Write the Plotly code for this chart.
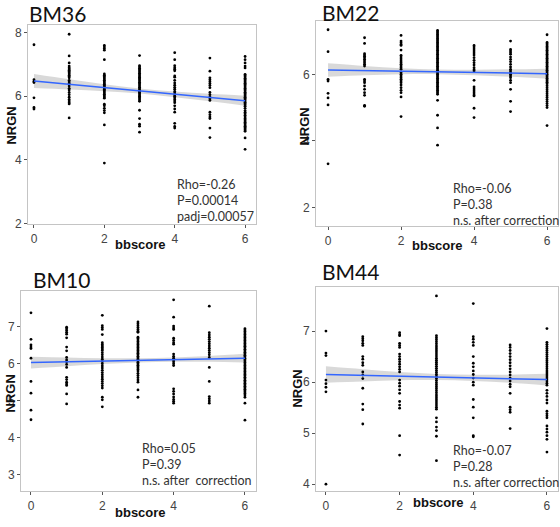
import plotly.graph_objects as go

# ---------------- data ----------------
scores = [0, 1, 2, 3, 4, 5, 6]
panel_names = ["BM36", "BM22", "BM10", "BM44"]

bm36_values = [
    [7.62, 6.52, 6.47, 6.43, 5.95, 5.65, 5.6],
    [7.95, 7.27, 7.05, 6.95, 6.9, 6.86, 6.82, 6.78, 6.74, 6.7, 6.66, 6.62, 6.58, 6.5, 6.45, 6.4, 6.32, 6.25,
     6.2, 6.12, 6.05, 5.97, 5.9, 5.85, 5.8, 5.76, 5.32],
    [7.6, 7.55, 7.5, 7.45, 7.15, 6.7, 6.66, 6.62, 6.58, 6.54, 6.5, 6.46, 6.42, 6.38, 6.34, 6.3, 6.26, 6.22,
     6.18, 6.14, 6.1, 6.06, 6.02, 5.98, 5.94, 5.75, 5.7, 5.62, 5.55, 5.48, 5.1, 3.9],
    [7.28, 6.96, 6.92, 6.88, 6.84, 6.8, 6.76, 6.72, 6.68, 6.64, 6.6, 6.56, 6.52, 6.48, 6.44, 6.4, 6.36, 6.32,
     6.28, 6.24, 6.2, 6.16, 6.12, 6.08, 6.04, 6.0, 5.96, 5.92, 5.88, 5.84, 5.56, 5.3, 5.12, 5.06, 4.87],
    [7.37, 7.15, 6.96, 6.9, 6.85, 6.8, 6.64, 6.6, 6.5, 6.42, 6.35, 6.28, 6.22, 6.15, 6.1, 6.05, 6.0, 5.95,
     5.9, 5.85, 5.8, 5.7, 5.6, 5.5, 5.15, 5.05, 5.0],
    [7.2, 6.79, 6.58, 6.52, 6.46, 6.4, 6.34, 6.27, 6.12, 6.05, 5.98, 5.92, 5.87, 5.5, 5.42, 5.35, 5.3, 5.0, 4.7],
    [7.25, 7.15, 7.05, 6.95, 6.89, 6.69, 6.65, 6.61, 6.57, 6.53, 6.49, 6.45, 6.41, 6.37, 6.33, 6.29, 6.25,
     6.21, 6.17, 6.13, 6.09, 6.05, 6.01, 5.97, 5.93, 5.89, 5.85, 5.81, 5.77, 5.73, 5.69, 5.62, 5.55, 5.5,
     5.45, 5.4, 5.35, 5.3, 5.26, 5.22, 5.18, 5.14, 5.1, 5.06, 5.02, 4.98, 4.94, 4.9, 4.69, 4.33],
]
bm22_values = [
    [7.34, 6.68, 5.85, 5.8, 5.43, 5.29, 5.08, 3.31],
    [7.1, 6.93, 6.62, 6.58, 6.54, 6.5, 6.45, 6.4, 6.35, 6.3, 6.25, 5.85, 5.8, 5.75, 5.65, 5.55, 5.45, 5.37,
     5.07, 5.04],
    [7.17, 7.0, 6.95, 6.9, 6.87, 6.73, 6.57, 6.52, 6.46, 6.4, 6.35, 6.3, 6.25, 6.2, 6.15, 6.05, 6.0, 5.95,
     5.9, 5.85, 5.8, 5.75, 5.68, 5.6, 5.52, 5.45, 5.32, 4.73],
    [7.32, 7.28, 7.24, 7.2, 7.16, 7.12, 7.08, 7.04, 7.0, 6.96, 6.92, 6.88, 6.84, 6.8, 6.76, 6.72, 6.68, 6.64,
     6.6, 6.56, 6.52, 6.48, 6.44, 6.4, 6.36, 6.32, 6.28, 6.24, 6.2, 6.16, 6.12, 6.08, 6.04, 6.0, 5.96, 5.92,
     5.88, 5.84, 5.8, 5.76, 5.72, 5.68, 5.64, 5.6, 5.56, 5.52, 5.48, 5.44, 5.4, 5.22, 4.77, 4.39, 3.87],
    [6.87, 6.82, 6.76, 6.7, 6.64, 6.58, 6.5, 6.42, 6.35, 6.28, 6.2, 6.14, 6.1, 5.82, 5.62, 5.56, 5.5, 5.44,
     5.38, 5.35, 4.98, 4.7],
    [7.0, 6.75, 6.7, 6.65, 6.6, 6.52, 6.45, 6.38, 6.3, 6.22, 6.15, 6.1, 6.05, 6.0, 5.95, 5.9, 5.82, 5.75,
     5.55, 5.19, 4.88],
    [7.19, 6.96, 6.92, 6.88, 6.84, 6.8, 6.76, 6.72, 6.68, 6.64, 6.6, 6.56, 6.52, 6.48, 6.44, 6.4, 6.36, 6.32,
     6.28, 6.24, 6.2, 6.16, 6.12, 6.08, 6.04, 6.0, 5.96, 5.92, 5.88, 5.84, 5.8, 5.76, 5.72, 5.66, 5.6, 5.54,
     5.48, 5.42, 5.36, 5.3, 5.24, 5.18, 5.12, 5.06, 5.0, 4.46],
]
bm10_values = [
    [7.38, 6.66, 6.51, 6.45, 6.41, 6.15, 5.52, 5.2, 4.74, 4.48],
    [6.99, 6.95, 6.9, 6.85, 6.8, 6.7, 6.45, 6.35, 6.17, 6.1, 6.05, 5.98, 5.9, 5.63, 5.57, 5.5, 5.45, 5.41,
     5.18, 4.91],
    [7.31, 7.03, 6.98, 6.93, 6.79, 6.57, 6.52, 6.48, 6.44, 6.4, 6.36, 6.3, 6.24, 6.18, 6.12, 6.06, 6.0, 5.94,
     5.88, 5.82, 5.76, 5.7, 5.64, 5.58, 5.52, 5.46, 5.4, 5.34, 5.09, 5.02, 4.83],
    [7.13, 7.08, 7.03, 6.98, 6.93, 6.88, 6.85, 6.72, 6.68, 6.64, 6.6, 6.56, 6.52, 6.48, 6.44, 6.4, 6.36, 6.32,
     6.28, 6.24, 6.2, 6.16, 6.12, 6.08, 6.04, 6.0, 5.96, 5.92, 5.88, 5.84, 5.8, 5.74, 5.68, 5.62, 5.56, 5.5,
     5.29, 5.09],
    [7.73, 7.26, 7.02, 6.97, 6.93, 6.69, 6.63, 6.57, 6.53, 6.26, 6.2, 6.15, 6.1, 6.05, 6.0, 5.95, 5.32, 5.25,
     5.18, 5.1, 5.03, 4.98, 4.93],
    [7.56, 6.84, 6.78, 6.72, 6.66, 6.6, 6.54, 6.48, 6.42, 6.36, 6.3, 6.24, 6.17, 5.9, 5.52, 5.11, 5.05, 4.99,
     4.93],
    [6.95, 6.91, 6.87, 6.83, 6.79, 6.75, 6.71, 6.67, 6.63, 6.59, 6.55, 6.51, 6.47, 6.43, 6.39, 6.35, 6.31,
     6.27, 6.23, 6.19, 6.15, 6.11, 6.07, 6.03, 5.99, 5.95, 5.91, 5.87, 5.83, 5.79, 5.75, 5.71, 5.67, 5.63,
     5.59, 5.55, 5.51, 5.47, 5.43, 5.39, 5.35, 5.31, 5.27, 5.23, 5.19, 5.15, 5.09, 4.93, 4.47],
]
bm44_values = [
    [7.0, 6.57, 6.52, 6.04, 5.97, 5.9, 5.81, 4.0],
    [6.89, 6.85, 6.81, 6.76, 6.72, 6.5, 6.45, 6.38, 6.33, 6.2, 6.14, 6.07, 5.88, 5.57, 5.46, 5.18],
    [6.97, 6.93, 6.91, 6.76, 6.72, 6.68, 6.55, 6.5, 6.45, 6.4, 6.35, 6.3, 6.25, 6.2, 6.04, 5.98, 5.92, 5.85,
     5.78, 5.62, 5.55, 5.49, 4.95, 4.57],
    [7.69, 6.91, 6.87, 6.83, 6.79, 6.75, 6.71, 6.67, 6.63, 6.59, 6.55, 6.51, 6.47, 6.43, 6.39, 6.35, 6.31,
     6.27, 6.23, 6.19, 6.15, 6.11, 6.07, 6.03, 5.99, 5.95, 5.91, 5.87, 5.83, 5.79, 5.75, 5.71, 5.67, 5.63,
     5.59, 5.55, 5.51, 5.47, 5.3, 5.22, 5.12, 5.05, 4.94, 4.46],
    [7.54, 6.89, 6.84, 6.78, 6.72, 6.5, 6.37, 6.3, 6.22, 6.15, 6.08, 6.0, 5.94, 5.66, 5.51, 5.3, 4.95, 4.93],
    [6.73, 6.68, 6.62, 6.56, 6.5, 6.44, 6.38, 6.32, 6.26, 6.2, 6.14, 6.08, 6.02, 5.96, 5.91, 5.78, 5.51,
     5.46, 5.41, 5.09],
    [7.05, 6.78, 6.74, 6.7, 6.66, 6.62, 6.58, 6.54, 6.5, 6.46, 6.42, 6.38, 6.34, 6.3, 6.26, 6.22, 6.18, 6.14,
     6.1, 6.06, 6.02, 5.98, 5.94, 5.84, 5.78, 5.72, 5.65, 5.59, 5.43, 5.38, 5.34, 5.3, 5.14, 5.08, 5.02, 4.95,
     4.88, 4.63],
]

# fitted line and confidence band at each bbscore
bm36_fit = [6.48, 6.375, 6.27, 6.165, 6.06, 5.96, 5.86]
bm36_hi = [6.70, 6.535, 6.38, 6.245, 6.15, 6.08, 6.02]
bm36_lo = [6.26, 6.215, 6.16, 6.085, 5.97, 5.84, 5.70]
bm22_fit = [6.13, 6.11, 6.09, 6.075, 6.055, 6.04, 6.02]
bm22_hi = [6.33, 6.25, 6.18, 6.145, 6.135, 6.15, 6.17]
bm22_lo = [5.93, 5.97, 6.0, 6.005, 5.975, 5.93, 5.87]
bm10_fit = [6.03, 6.05, 6.07, 6.09, 6.11, 6.13, 6.15]
bm10_hi = [6.19, 6.17, 6.15, 6.15, 6.17, 6.21, 6.27]
bm10_lo = [5.87, 5.93, 5.99, 6.03, 6.05, 6.05, 6.03]
bm44_fit = [6.15, 6.133, 6.117, 6.10, 6.083, 6.067, 6.05]
bm44_hi = [6.31, 6.253, 6.197, 6.16, 6.143, 6.147, 6.165]
bm44_lo = [5.99, 6.013, 6.037, 6.04, 6.023, 5.987, 5.935]

stats_text = [
    ["Rho=-0.26", "P=0.00014", "padj=0.00057"],
    ["Rho=-0.06", "P=0.38", "n.s. after correction"],
    ["Rho=0.05", "P=0.39", "n.s. after  correction"],
    ["Rho=-0.07", "P=0.28", "n.s. after correction"],
]
x_ticks = [0, 2, 4, 6]
y_ticks = [[2, 4, 6, 8], [2, 4, 6], [3, 4, 5, 6, 7], [4, 5, 6, 7]]

# ---------------- layout ----------------
W, H = 560, 527
# plot boxes in pixels: left, right, top, bottom
boxes = [(28, 256, 25, 227), (316, 558, 21, 229), (21, 256, 294, 497), (316, 558, 290, 497)]
x_ranges = [[-0.17, 6.31], [-0.33, 6.3], [-0.28, 6.31], [-0.27, 6.3]]
y_ranges = [[1.97, 8.25], [1.43, 7.61], [2.54, 7.98], [3.86, 7.87]]
title_pos = [(27, 14), (320, 13), (31, 283), (320, 275)]
ylab_pos = [(12, 127), (305, 128), (10, 398), (298, 393)]
xlab_pos = [(140, 247), (437, 248), (140, 518), (438, 508)]
stats_pos = [(176, 187), (452, 191), (141, 454), (452, 456)]

all_values = [bm36_values, bm22_values, bm10_values, bm44_values]
fits = [bm36_fit, bm22_fit, bm10_fit, bm44_fit]
his = [bm36_hi, bm22_hi, bm10_hi, bm44_hi]
los = [bm36_lo, bm22_lo, bm10_lo, bm44_lo]

fig = go.Figure()
annotations = []
for i in range(4):
    xa = "x" if i == 0 else f"x{i+1}"
    ya = "y" if i == 0 else f"y{i+1}"
    xs, ys = [], []
    for s, col in zip(scores, all_values[i]):
        xs.extend([s] * len(col))
        ys.extend(col)
    # band
    fig.add_trace(go.Scatter(x=scores, y=los[i], mode="lines", line=dict(width=0, shape="spline"),
                             hoverinfo="skip", showlegend=False, xaxis=xa, yaxis=ya))
    fig.add_trace(go.Scatter(x=scores, y=his[i], mode="lines", line=dict(width=0, shape="spline"),
                             fill="tonexty", fillcolor="rgba(160,160,160,0.4)",
                             hoverinfo="skip", showlegend=False, xaxis=xa, yaxis=ya))
    fig.add_trace(go.Scatter(x=xs, y=ys, mode="markers",
                             marker=dict(size=2.8, color="black"),
                             showlegend=False, xaxis=xa, yaxis=ya))
    fig.add_trace(go.Scatter(x=scores, y=fits[i], mode="lines",
                             line=dict(color="#3366FF", width=1.5),
                             showlegend=False, xaxis=xa, yaxis=ya))

    l, r, t, b = boxes[i]
    axis_common = dict(showgrid=False, zeroline=False, showline=True, mirror=True,
                       linecolor="#c4c4c4", linewidth=1, ticks="outside", ticklen=3,
                       tickcolor="#555555",
                       tickfont=dict(family="Liberation Sans Narrow, Arial Narrow, Liberation Sans, Arial",
                                     size=12, color="#444444"))
    fig.layout[f"xaxis{'' if i == 0 else i+1}"] = dict(
        domain=[l / W, r / W], range=x_ranges[i], tickvals=x_ticks, anchor=ya, **axis_common)
    fig.layout[f"yaxis{'' if i == 0 else i+1}"] = dict(
        domain=[1 - b / H, 1 - t / H], range=y_ranges[i], tickvals=y_ticks[i], anchor=xa, **axis_common)

    tx, ty = title_pos[i]
    annotations.append(dict(text=panel_names[i], x=tx / W, y=1 - ty / H, xref="paper", yref="paper",
                            xanchor="left", yanchor="middle", showarrow=False,
                            font=dict(family="Lato, Open Sans, sans-serif", size=21, color="#111111")))
    lx, ly = ylab_pos[i]
    annotations.append(dict(text="<b>NRGN</b>", x=lx / W, y=1 - ly / H, xref="paper", yref="paper",
                            xanchor="center", yanchor="middle", showarrow=False, textangle=-90,
                            font=dict(family="Liberation Sans, Arial", size=13, color="#111111")))
    bx, by = xlab_pos[i]
    annotations.append(dict(text="<b>bbscore</b>", x=bx / W, y=1 - by / H, xref="paper", yref="paper",
                            xanchor="center", yanchor="middle", showarrow=False,
                            font=dict(family="Liberation Sans, Arial", size=13, color="#111111")))
    sx, sy = stats_pos[i]
    for k, line in enumerate(stats_text[i]):
        annotations.append(dict(text=line, x=sx / W, y=1 - (sy + 16 * k) / H, xref="paper", yref="paper",
                                xanchor="left", yanchor="middle", showarrow=False, borderpad=0,
                                font=dict(family="Lato, Open Sans, sans-serif", size=12.5, color="#333333")))

fig.update_layout(width=W, height=H, margin=dict(l=0, r=0, t=0, b=0),
                  paper_bgcolor="white", plot_bgcolor="white",
                  annotations=annotations, showlegend=False)

fig.write_html("out.html", config={"displayModeBar": False},
               post_script="document.body.style.margin='0';document.body.style.overflow='hidden';")
